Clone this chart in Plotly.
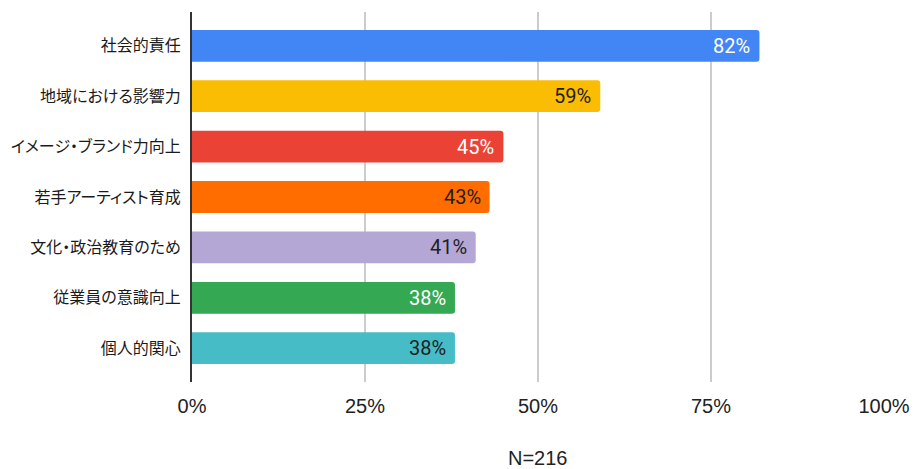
import plotly.graph_objects as go

# Survey responses (share of respondents, %)
categories = [
    "社会的責任",
    "地域における影響力",
    "イメージ・ブランド力向上",
    "若手アーティスト育成",
    "文化・政治教育のため",
    "従業員の意識向上",
    "個人的関心",
]
values = [82, 59, 45, 43, 41, 38, 38]
bar_colors = ["#4285F4", "#FBBC04", "#EA4335", "#FF6D01", "#B4A7D6", "#34A853", "#46BDC6"]
label_colors = ["#FFFFFF", "#1F1F1F", "#FFFFFF", "#1F1F1F", "#1F1F1F", "#FFFFFF", "#1F1F1F"]
x_ticks = [0, 25, 50, 75, 100]
x_tick_labels = ["0%", "25%", "50%", "75%", "100%"]
sample_note = "N=216"

fig = go.Figure(
    go.Bar(
        x=values,
        y=categories,
        orientation="h",
        marker=dict(color=bar_colors, cornerradius=3, line=dict(width=0)),
        hoverinfo="skip",
    )
)

# Value labels inside the end of each bar
for cat, v, c in zip(categories, values, label_colors):
    fig.add_annotation(
        x=v, y=cat, text=f"{v}%", showarrow=False,
        xanchor="right", yanchor="middle", xshift=-7,
        font=dict(family="Roboto, sans-serif", size=20, color=c),
    )

fig.add_annotation(
    x=0.5, y=-0.205, xref="paper", yref="paper", text=sample_note,
    showarrow=False, xanchor="center", yanchor="middle",
    font=dict(family="Liberation Sans, Arial, sans-serif", size=20, color="#222222"),
)

fig.update_layout(
    width=914, height=469,
    margin=dict(l=192, r=30, t=12, b=87),
    paper_bgcolor="white", plot_bgcolor="white",
    bargap=0.37,
    showlegend=False,
    xaxis=dict(
        range=[0, 100], tickvals=x_ticks, ticktext=x_tick_labels,
        showgrid=True, gridcolor="#CCCCCC", gridwidth=1.5,
        zeroline=False, showline=False, ticks="",
        ticklabelstandoff=10, automargin=False,
        tickfont=dict(family="Liberation Sans, Arial, sans-serif", size=20, color="#222222"),
    ),
    yaxis=dict(
        type="category", range=[6.67, -0.67],
        showgrid=False, zeroline=False,
        showline=True, linecolor="#333333", linewidth=2,
        ticks="", ticklabelstandoff=6, automargin=False,
        tickfont=dict(family="Noto Sans CJK JP, sans-serif", size=16, color="#1A1A1A"),
    ),
)

# Proportional kana spacing for the category labels
palt_css = (
    "var s=document.createElement('style');"
    "s.textContent='.ytick text{font-feature-settings:\"palt\" 1;}';"
    "document.head.appendChild(s);"
)

fig.write_html("out.html", post_script=palt_css)
